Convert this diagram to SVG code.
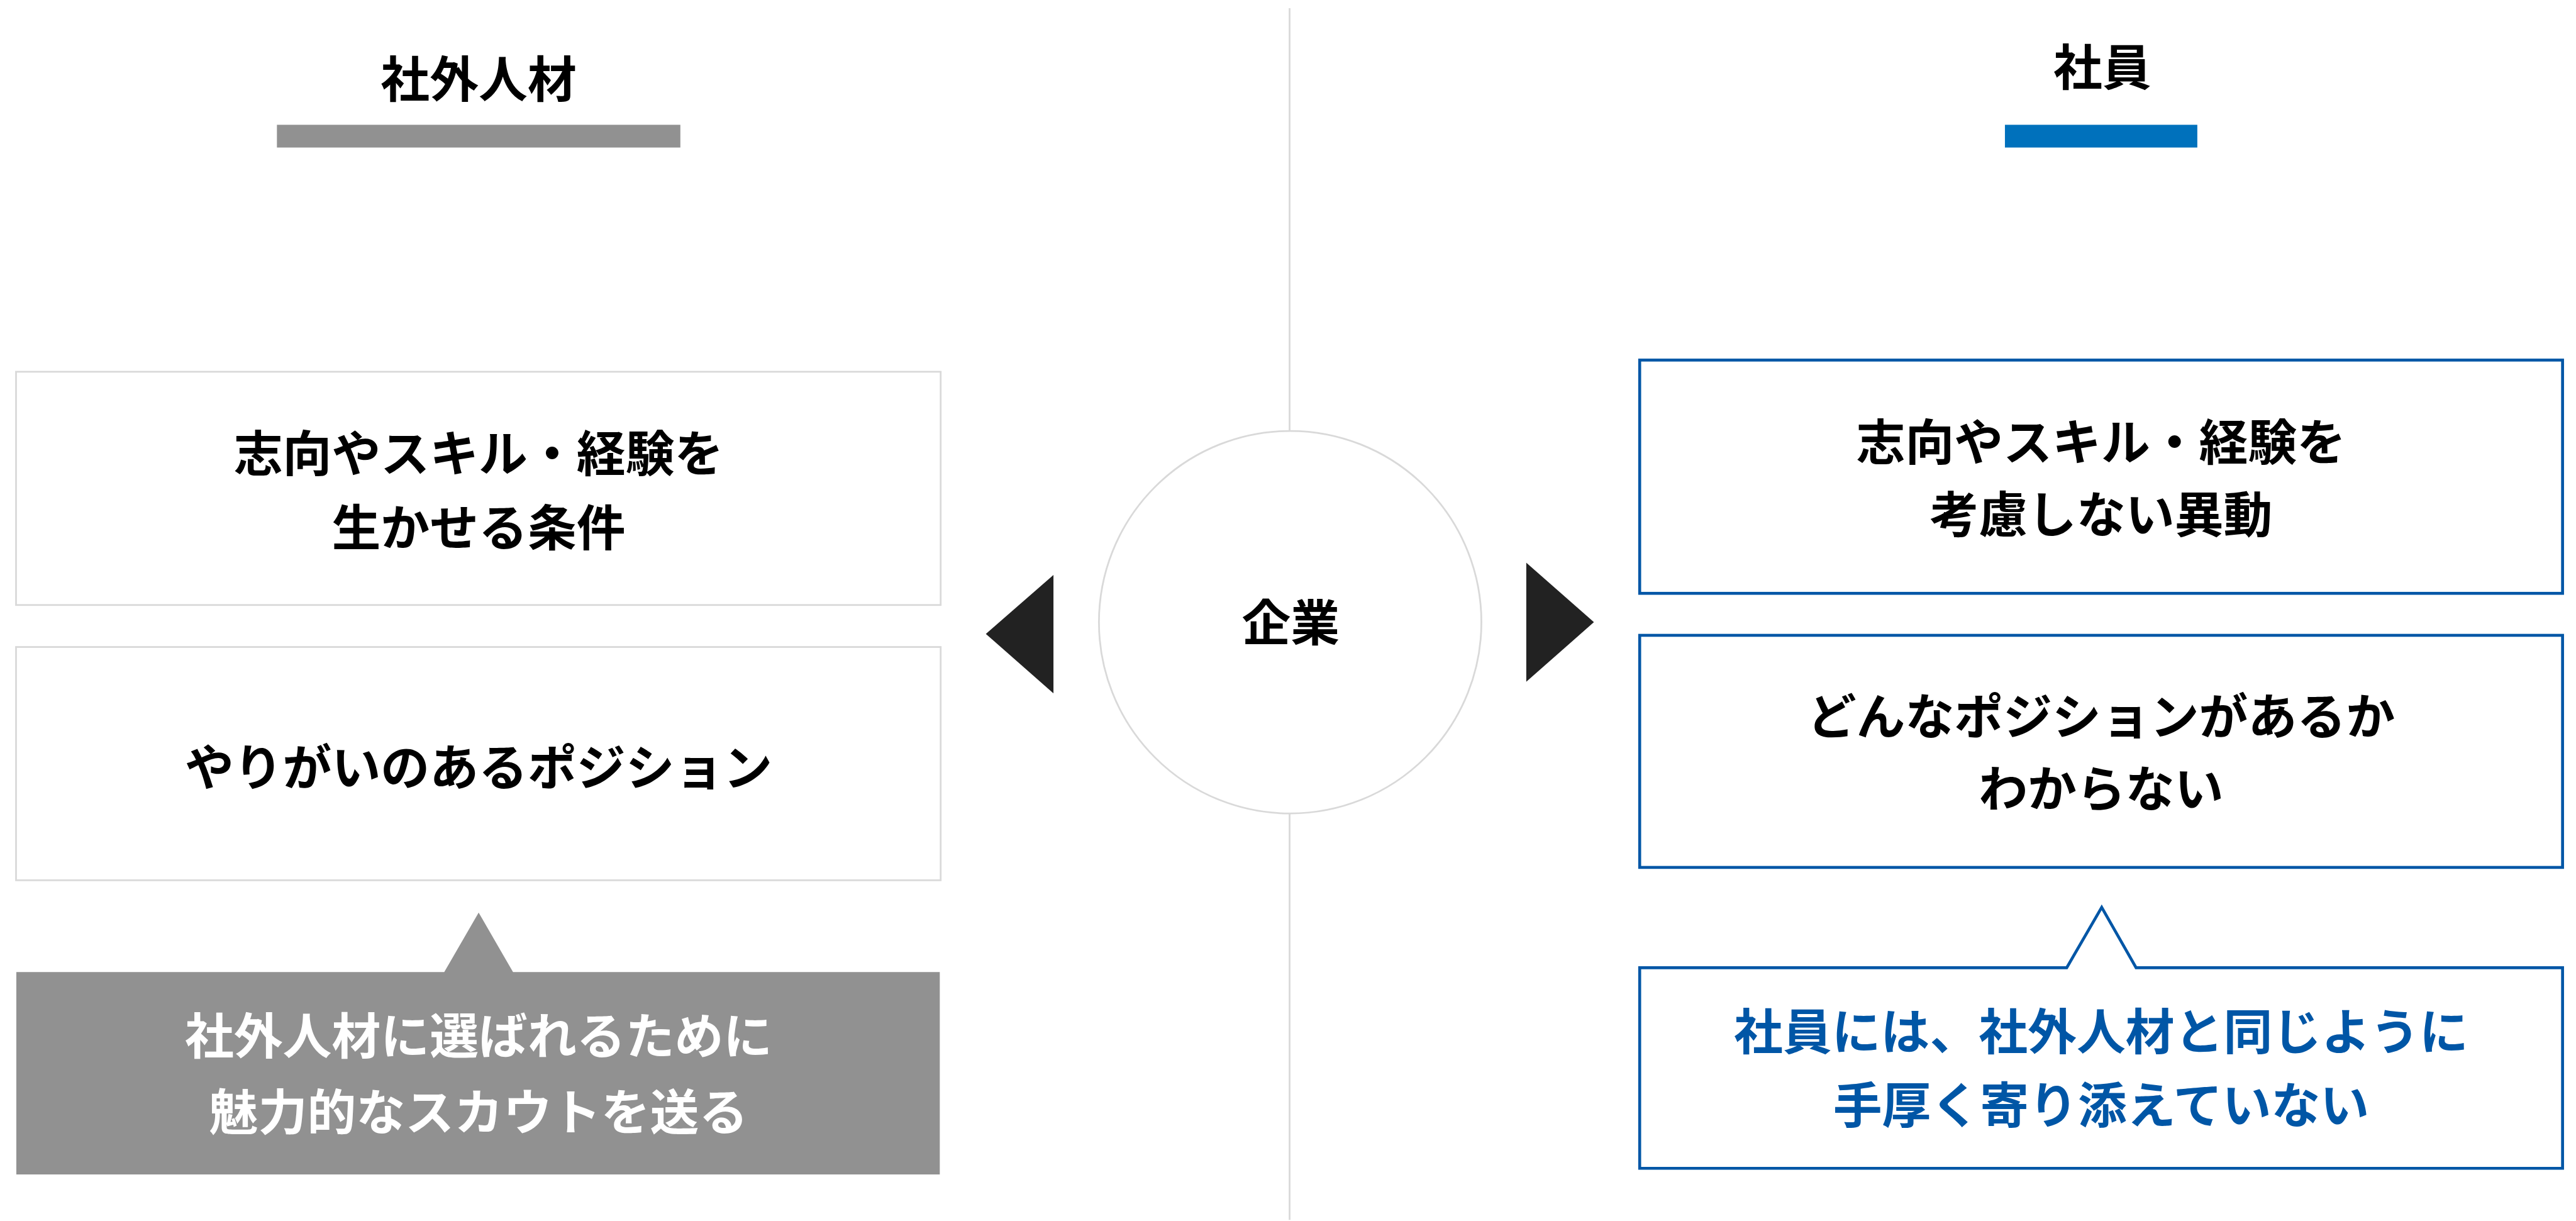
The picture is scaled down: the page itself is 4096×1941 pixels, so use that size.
<svg xmlns="http://www.w3.org/2000/svg" width="4096" height="1941" viewBox="0 0 4096 1941">
<style>
.t{font-family:"Noto Sans CJK JP","Noto Sans CJK SC",sans-serif;font-weight:700;font-size:84px;text-anchor:middle;fill:#000}
.w{fill:#fff}
.b{fill:#0056a6}
.gbox{fill:#fff;stroke:#d9d9d9;stroke-width:3}
.bbox{fill:#fff;stroke:#0056a6;stroke-width:5;stroke-linejoin:miter}
</style>
<rect width="4096" height="1941" fill="#fff"/>
<g transform="scale(0.927)">
<g id="divider"><line x1="2212" y1="14" x2="2212" y2="2092" stroke="#d9d9d9" stroke-width="3"/></g>
<g id="header-left">
<text class="t" x="821" y="167">社外人材</text>
<rect x="475" y="214" width="692" height="39" fill="#919191"/>
</g>
<g id="header-right">
<text class="t" x="3606" y="147">社員</text>
<rect x="3439" y="214" width="330" height="39" fill="#0071bc"/>
</g>
<g id="left-box-1">
<rect class="gbox" x="27.5" y="637.5" width="1586" height="400"/>
<text class="t" x="821" y="809">志向やスキル・経験を</text>
<text class="t" x="821" y="936">生かせる条件</text>
</g>
<g id="left-box-2">
<rect class="gbox" x="27.5" y="1109.5" width="1586" height="400"/>
<text class="t" x="821" y="1347">やりがいのあるポジション</text>
</g>
<g id="left-callout">
<path d="M28,1667 H762 L821,1565 L880,1667 H1612 V2014 H28 Z" fill="#919191"/>
<text class="t w" x="821" y="1808">社外人材に選ばれるために</text>
<text class="t w" x="821" y="1939">魅力的なスカウトを送る</text>
</g>
<g id="company">
<circle cx="2213" cy="1067" r="328" fill="#fff" stroke="#d9d9d9" stroke-width="3"/>
<text class="t" x="2214" y="1099">企業</text>
</g>
<g id="connectors">
<polygon points="1807,986 1807,1189 1691,1087" fill="#222"/>
<polygon points="2618,965 2618,1169 2734,1067" fill="#222"/>
</g>
<g id="right-box-1">
<rect class="bbox" x="2812.5" y="617.5" width="1583" height="400"/>
<text class="t" x="3604" y="790">志向やスキル・経験を</text>
<text class="t" x="3604" y="914">考慮しない異動</text>
</g>
<g id="right-box-2">
<rect class="bbox" x="2812.5" y="1089.5" width="1583" height="398"/>
<text class="t" x="3604" y="1260">どんなポジションがあるか</text>
<text class="t" x="3604" y="1384">わからない</text>
</g>
<g id="right-callout">
<path class="bbox" d="M2812.5,1659.5 H3545 L3605,1556 L3664,1659.5 H4395.5 V2003.5 H2812.5 Z"/>
<text class="t b" x="3604" y="1800">社員には、社外人材と同じように</text>
<text class="t b" x="3604" y="1927">手厚く寄り添えていない</text>
</g>
</g>
</svg>
